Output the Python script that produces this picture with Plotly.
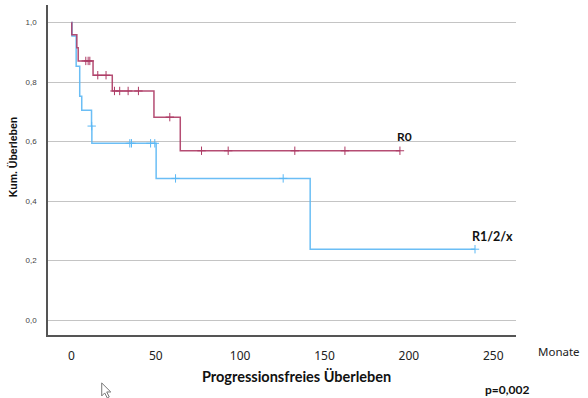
import numpy as np
import plotly.graph_objects as go

# ---- data ----
r0_time = [0, 0.2, 3.2, 4.0, 12.8, 24.2, 48.9, 64.5, 194.7]
r0_surv = [1.0, 0.959, 0.915, 0.871, 0.823, 0.770, 0.682, 0.569, 0.569]
r0_cens = [8.5, 9.9, 10.9, 15.6, 20.5, 25.5, 28.6, 33.6, 39.7, 58.3,
           77.1, 92.9, 132.4, 162.1, 194.7]

r1_time = [0, 0.3, 2.8, 4.9, 6.1, 11.9, 12.1, 50.2, 141.5, 239.2]
r1_surv = [1.0, 0.955, 0.853, 0.752, 0.705, 0.652, 0.594, 0.476, 0.238, 0.238]
r1_cens = [12.0, 34.6, 35.6, 46.9, 49.4, 61.7, 125.5, 239.2]

x_ticks = [0, 50, 100, 150, 200, 250]
y_ticks = [0.0, 0.2, 0.4, 0.6, 0.8, 1.0]
y_ticktext = ["0,0", "0,2", "0,4", "0,6", "0,8", "1,0"]

RED = "#ad3a64"
BLUE = "#5bb8f5"


def step_value(times, surv, t):
    idx = np.searchsorted(np.array(times), np.array(t), side="right") - 1
    return np.array(surv)[idx]


fig = go.Figure()
for times, surv, cens, col in [(r1_time, r1_surv, r1_cens, BLUE),
                               (r0_time, r0_surv, r0_cens, RED)]:
    fig.add_trace(go.Scatter(x=times, y=surv, mode="lines", line_shape="hv",
                             line=dict(color=col, width=1.5), opacity=0.9,
                             hoverinfo="skip", showlegend=False))
    fig.add_trace(go.Scatter(x=cens, y=step_value(times, surv, cens), mode="markers",
                             marker=dict(symbol="cross-thin", size=6,
                                         line=dict(color=col, width=1)),
                             hoverinfo="skip", showlegend=False))

fig.update_xaxes(range=[-13.9, 263.5], tickvals=x_ticks,
                 ticktext=[str(v) for v in x_ticks],
                 showgrid=False, zeroline=False, showline=True,
                 linecolor="#555555", linewidth=1.5, ticks="",
                 ticklabelstandoff=9,
                 tickfont=dict(family="Noto Sans", size=12, color="#222222"))
fig.update_yaxes(range=[-0.0504, 1.059], tickvals=y_ticks, ticktext=y_ticktext,
                 showgrid=True, gridcolor="#c4c4c4", gridwidth=1, zeroline=False,
                 showline=True, linecolor="#555555", linewidth=1.5, ticks="",
                 ticklabelstandoff=8,
                 tickfont=dict(family="Liberation Sans", size=8, color="#444444"))

ann = [
    dict(text="<b>Progressionsfreies Überleben</b>", x=0.532, y=-0.127,
         font=dict(family="Lato", size=14.5, color="#111111")),
    dict(text="<b>p=0,002</b>", x=0.981, y=-0.1665,
         font=dict(family="Lato", size=12, color="#111111")),
    dict(text="Monate", x=1.091, y=-0.0515,
         font=dict(family="Noto Sans", size=11.5, color="#222222")),
    dict(text="<b>Kum. Überleben</b>", x=-0.0744, y=0.539, textangle=-90,
         font=dict(family="Liberation Sans", size=10.5, color="#111111")),
]
for a in ann:
    fig.add_annotation(xref="paper", yref="paper", showarrow=False,
                       xanchor="center", yanchor="middle", **a)

fig.add_annotation(text="<b>R0</b>", x=197.4, y=0.618, showarrow=False,
                   xanchor="center", yanchor="middle",
                   font=dict(family="Lato", size=12, color="#111111"))
fig.add_annotation(text="<b>R1/2/x</b>", x=249.6, y=0.2805, showarrow=False,
                   xanchor="center", yanchor="middle",
                   font=dict(family="Lato", size=12.5, color="#111111"))

# mouse cursor visible in the reference screenshot (decorative)
def P(X, Y):
    return (X - 48.3) / 467.7, (335 - Y) / 330.3

pts = [(102, 383), (102, 396), (105, 393), (107.5, 398), (109.5, 397),
       (107, 392), (111, 392)]
path = "M " + " L ".join(f"{P(x, y)[0]:.4f},{P(x, y)[1]:.4f}" for x, y in pts) + " Z"
fig.add_shape(type="path", path=path, xref="paper", yref="paper",
              line=dict(color="#777777", width=1), fillcolor="white")

fig.update_layout(width=588, height=398, plot_bgcolor="white", paper_bgcolor="white",
                  margin=dict(l=48, r=72, t=5, b=63), showlegend=False)

fig.write_html("out.html", config={"displayModeBar": False},
               post_script="document.body.style.margin='0';"
                           "document.body.style.overflow='hidden';")
